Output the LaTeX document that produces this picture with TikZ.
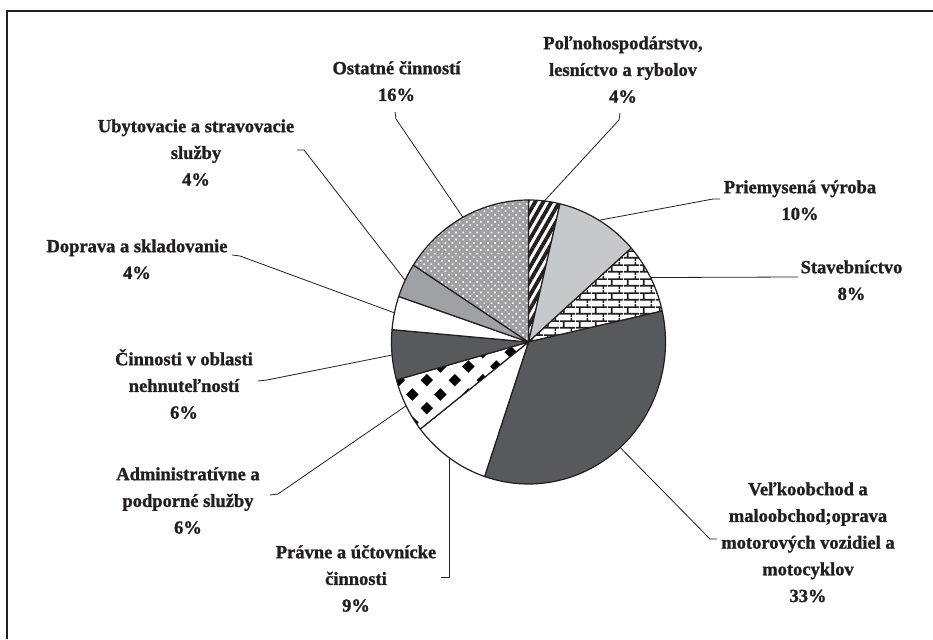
\documentclass[tikz,border=0pt]{standalone}
\usepackage{fontspec}
\setmainfont[BoldFeatures={FakeBold=1.3}]{Liberation Serif}
\usetikzlibrary{patterns,patterns.meta}
\definecolor{ink}{RGB}{35,31,32}
\definecolor{lgray}{RGB}{199,200,202}
\definecolor{dgray}{RGB}{88,89,91}
\definecolor{mgray}{RGB}{160,161,164}
\definecolor{meshgray}{RGB}{160,160,162}
\pgfdeclarepattern{
  name=brickpat, type=uncolored,
  bottom left={\pgfpoint{0pt}{0pt}},
  top right={\pgfpoint{16pt}{14pt}},
  tile size={\pgfpoint{16pt}{14pt}},
  code={
    \pgfsetlinewidth{1.8pt}
    \pgfpathmoveto{\pgfpoint{0pt}{3.5pt}}\pgfpathlineto{\pgfpoint{16pt}{3.5pt}}
    \pgfpathmoveto{\pgfpoint{0pt}{10.5pt}}\pgfpathlineto{\pgfpoint{16pt}{10.5pt}}
    \pgfpathmoveto{\pgfpoint{4pt}{3.5pt}}\pgfpathlineto{\pgfpoint{4pt}{10.5pt}}
    \pgfpathmoveto{\pgfpoint{12pt}{10.5pt}}\pgfpathlineto{\pgfpoint{12pt}{14pt}}
    \pgfpathmoveto{\pgfpoint{12pt}{0pt}}\pgfpathlineto{\pgfpoint{12pt}{3.5pt}}
    \pgfusepath{stroke}
  }
}
\pgfdeclarepattern{
  name=diampat, type=uncolored,
  bottom left={\pgfpoint{0pt}{0pt}},
  top right={\pgfpoint{28pt}{28pt}},
  tile size={\pgfpoint{28pt}{28pt}},
  code={
    \pgfpathmoveto{\pgfpoint{7pt}{0.6pt}}\pgfpathlineto{\pgfpoint{13.4pt}{7pt}}\pgfpathlineto{\pgfpoint{7pt}{13.4pt}}\pgfpathlineto{\pgfpoint{0.6pt}{7pt}}\pgfpathclose
    \pgfpathmoveto{\pgfpoint{21pt}{14.6pt}}\pgfpathlineto{\pgfpoint{27.4pt}{21pt}}\pgfpathlineto{\pgfpoint{21pt}{27.4pt}}\pgfpathlineto{\pgfpoint{14.6pt}{21pt}}\pgfpathclose
    \pgfusepath{fill}
  }
}
\newcommand\mypieslice[3]{\path[#3] (528.5,342) -- plot[domain=#1:#2, samples=60] ({528.5+137*sin(\x)},{342-142*cos(\x)}) -- cycle;}
\newcommand\pieedge[2]{\coordinate (#1) at ({528.5+137*sin(#2)},{342-142*cos(#2)});}
\begin{document}
\begin{tikzpicture}[x=1pt,y=-1pt,
  lbl/.style={font=\fontsize{18.5}{26.7}\selectfont\bfseries, align=center, inner sep=0pt, anchor=north, text=ink},
  lead/.style={draw=ink, line width=0.8pt},
  slice/.style={draw=ink, line width=1.2pt, line join=round}]
\useasboundingbox (0,0) rectangle (933,639);
\fill[white] (0,0) rectangle (933,639);
% frame
\draw[ink, line width=2pt] (7.3,639) -- (7.3,11) -- (933,11);
% slices
\mypieslice{0}{13.3}{slice, preaction={fill=white}, pattern={Lines[angle=60,distance=7pt,line width=3.8pt]}, pattern color=ink}
\mypieslice{13.3}{48.6}{slice, fill=lgray}
\mypieslice{48.6}{77.4}{slice, preaction={fill=white}, pattern=brickpat, pattern color=ink}
\mypieslice{77.4}{198.7}{slice, fill=dgray}
\mypieslice{198.7}{232.2}{slice, fill=white}
\mypieslice{232.2}{254.5}{slice, preaction={fill=white}, pattern=diampat, pattern color=black}
\mypieslice{254.5}{275}{slice, fill=dgray}
\mypieslice{275}{288.7}{slice, fill=white}
\mypieslice{288.7}{302.8}{slice, fill=mgray}
\mypieslice{302.8}{360}{slice, preaction={fill=meshgray}, pattern={Dots[distance=5pt,radius=1.2pt,angle=45]}, pattern color=white}
% anchor points on the pie
\pieedge{pPol}{6.65}
\pieedge{pPri}{31}
\pieedge{pSta}{63}
\pieedge{pVel}{138}
\pieedge{pPra}{215.5}
\pieedge{pAdm}{243.3}
\pieedge{pCin}{264.75}
\pieedge{pDop}{281.85}
\pieedge{pUby}{295.75}
\pieedge{pOst}{331.4}
% labels
\node[lbl] (ost) at (396.5,56) {\rule{0pt}{18pt}Ostatné činností\\16\%};
\node[lbl] (pol) at (623,31) {\rule{0pt}{18pt}Poľnohospodárstvo,\\lesníctvo a rybolov\\4\%};
\node[lbl] (pri) at (800,175) {\rule{0pt}{18pt}Priemysená výroba\\10\%};
\node[lbl] (sta) at (851.5,255) {\rule{0pt}{18pt}Stavebníctvo\\8\%};
\node[lbl] (vel) at (808,477) {\rule{0pt}{18pt}Veľkoobchod a\\maloobchod;oprava\\motorových vozidiel a\\motocyklov\\33\%};
\node[lbl] (pra) at (356,540) {\rule{0pt}{18pt}Právne a účtovnícke\\činnosti\\9\%};
\node[lbl] (adm) at (188,462) {\rule{0pt}{18pt}Administratívne a\\podporné služby\\6\%};
\node[lbl] (cin) at (184,347) {\rule{0pt}{18pt}Činnosti v oblasti\\nehnuteľností\\6\%};
\node[lbl] (dop) at (137,234) {\rule{0pt}{18pt}Doprava a skladovanie\\4\%};
\node[lbl] (uby) at (196,114) {\rule{0pt}{18pt}Ubytovacie a stravovacie\\služby\\4\%};
% leader line ends
\coordinate (ostA) at (395,112); \coordinate (ostB) at (396,119);
\coordinate (polA) at (620,113); \coordinate (polB) at (619,120);
\coordinate (priA) at (720,199); \coordinate (priB) at (713,199);
\coordinate (staA) at (798,277);
\coordinate (velA) at (717,539); \coordinate (velB) at (710,539);
\coordinate (praA) at (441,577);
\coordinate (admA) at (270,495); \coordinate (admB) at (278,494);
\coordinate (cinA) at (258,381); \coordinate (cinB) at (267,380);
\coordinate (dopA) at (232,255); \coordinate (dopB) at (240,256);
\coordinate (ubyA) at (297,150); \coordinate (ubyB) at (304,150);
% leader lines
\draw[lead] (ostA) -- (ostB) -- (pOst);
\draw[lead] (polA) -- (polB) -- (pPol);
\draw[lead] (priA) -- (priB) -- (pPri);
\draw[lead] (staA) -- (pSta);
\draw[lead] (velA) -- (velB) -- (pVel);
\draw[lead] (praA) -- (pPra |- praA) -- (pPra);
\draw[lead] (admA) -- (admB) -- (pAdm);
\draw[lead] (cinA) -- (cinB) -- (pCin);
\draw[lead] (dopA) -- (dopB) -- (pDop);
\draw[lead] (ubyA) -- (ubyB) -- (pUby);
\end{tikzpicture}
\end{document}
